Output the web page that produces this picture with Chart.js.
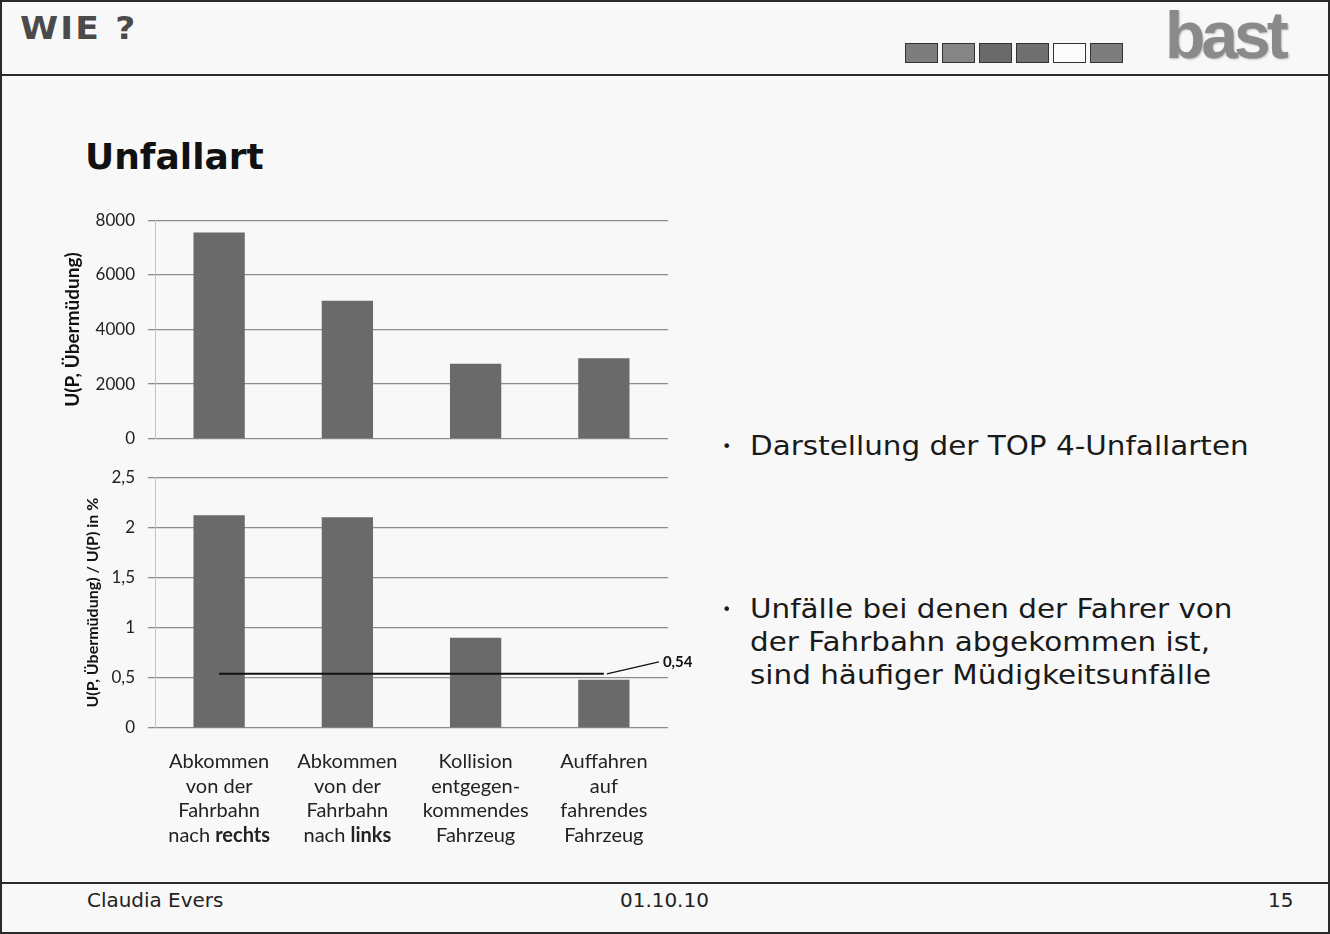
<!DOCTYPE html>
<html>
<head>
<meta charset="utf-8">
<script src="https://cdn.jsdelivr.net/npm/chart.js@4/dist/chart.umd.min.js"></script>
<style>
  html, body { margin:0; padding:0; }
  body { width:1330px; height:934px; position:relative; background:#f8f8f8; overflow:hidden; font-family:"DejaVu Sans", Verdana, sans-serif; }
  .abs { position:absolute; }
  #frame { left:0; top:0; width:1330px; height:934px; box-sizing:border-box; border:2px solid #2a2a2a; }
  #hdrline { left:0; top:74px; width:1330px; height:2px; background:#2a2a2a; }
  #ftrline { left:0; top:882px; width:1330px; height:2px; background:#2a2a2a; }
  #wie { left:20px; top:9px; font-weight:bold; font-size:32px; color:#4a4a4a; letter-spacing:2px; transform:scaleX(1.08); transform-origin:left top; white-space:nowrap; }
  .box { position:absolute; top:43px; width:31px; height:18px; border:1px solid #333; }
  #bast { left:1165px; top:-3px; font-family:"Liberation Sans Narrow","Liberation Sans",sans-serif; font-weight:bold; font-size:66px; color:#8a8a8a; letter-spacing:-4px; text-shadow:1px 1px 2px #bbb; }
  #title { left:85px; top:136px; font-weight:bold; font-size:36px; color:#111; }
  .bul { position:absolute; left:722px; font-size:27px; color:#1a1a1a; line-height:33px; }
  .bul .dot { position:absolute; left:0; top:0; font-size:16px; }
  .bul .txt { margin-left:28px; transform:scaleX(1.09); transform-origin:left top; white-space:nowrap; }
  .ft { position:absolute; top:889px; font-size:19px; color:#222; transform:scaleX(1.05); transform-origin:left top; }
  canvas { position:absolute; }
</style>
</head>
<body>
<div id="frame" class="abs"></div>
<div id="wie" class="abs">WIE ?</div>
<div class="box" style="left:905px;background:#7d7d7d"></div>
<div class="box" style="left:942px;background:#858585"></div>
<div class="box" style="left:979px;background:#6a6a6a"></div>
<div class="box" style="left:1016px;background:#707070"></div>
<div class="box" style="left:1053px;background:#fbfbfb"></div>
<div class="box" style="left:1090px;background:#7d7d7d"></div>
<div id="bast" class="abs">bast</div>
<div id="hdrline" class="abs"></div>
<div id="title" class="abs">Unfallart</div>

<canvas id="c1" width="660" height="265" style="left:60px;top:197px;width:660px;height:265px"></canvas>
<canvas id="c2" width="660" height="406" style="left:60px;top:454px;width:660px;height:406px"></canvas>

<div class="bul" style="top:429px"><span class="dot" style="top:1px">&#8226;</span><div class="txt">Darstellung der TOP 4-Unfallarten</div></div>
<div class="bul" style="top:592px"><span class="dot" style="top:1px">&#8226;</span><div class="txt">Unfälle bei denen der Fahrer von<br>der Fahrbahn abgekommen ist,<br>sind häufiger Müdigkeitsunfälle</div></div>

<div id="ftrline" class="abs"></div>
<div class="ft" style="left:87px">Claudia Evers</div>
<div class="ft" style="left:620px">01.10.10</div>
<div class="ft" style="left:1268px">15</div>

<script>
// ---- data ----
const categories = [
  ["Abkommen", "von der", "Fahrbahn", "nach rechts"],
  ["Abkommen", "von der", "Fahrbahn", "nach links"],
  ["Kollision", "entgegen-", "kommendes", "Fahrzeug"],
  ["Auffahren", "auf", "fahrendes", "Fahrzeug"]
];
const boldWords = ["rechts", "links"];
const countValues = [7550, 5050, 2750, 2950];          // U(P, Übermüdung)
const shareValues = [2.12, 2.10, 0.90, 0.48];           // U(P, Übermüdung) / U(P) in %
const averageShare = 0.54;
const averageLine = categories.map(() => averageShare);
const countTicks = [0, 2000, 4000, 6000, 8000];
const shareTicks = [0, 0.5, 1, 1.5, 2, 2.5];

// ---- styling ----
const FONT = "Lato, 'Open Sans', sans-serif";
const BAR = "#6a6a6a";
const GRID = "#8c8c8c";
Chart.defaults.font.family = FONT;
Chart.defaults.color = "#222";
Chart.defaults.animation = false;

const deComma = v => String(v).replace('.', ',');

function yScale(ticks, titleText, titleSize, titlePad, fmt) {
  return {
    min: ticks[0], max: ticks[ticks.length - 1],
    afterBuildTicks: s => { s.ticks = ticks.map(v => ({ value: v })); },
    afterFit: s => { s.width = 95; },
    grid: { color: GRID, lineWidth: 1.3, tickLength: 7, drawTicks: true },
    border: { display: true, color: "#c4c4c4", width: 1 },
    ticks: { padding: 13, font: { size: 17 }, color: "#222", callback: fmt },
    title: { display: true, text: titleText, font: { size: titleSize, weight: "bold" }, color: "#111", padding: { top: titlePad, bottom: 0 } }
  };
}

// top chart
new Chart(document.getElementById('c1'), {
  type: 'bar',
  data: {
    labels: categories,
    datasets: [{ data: countValues, backgroundColor: BAR, categoryPercentage: 0.8, barPercentage: 0.5 }]
  },
  options: {
    responsive: false,
    layout: { padding: { top: 0, right: 52, bottom: 0, left: 0 } },
    plugins: { legend: { display: false }, tooltip: { enabled: false } },
    scales: {
      x: { display: false },
      y: yScale(countTicks, "U(P, Übermüdung)", 19, 1, v => String(v))
    }
  }
});

// label plugin for multi-line category labels with bold words, and average label
const catLabels = {
  id: 'catLabels',
  afterDraw(chart) {
    const ctx = chart.ctx;
    const xs = chart.scales.x;
    const size = 20, lh = 24.5, y0 = chart.chartArea.bottom + 34;
    ctx.save();
    ctx.textBaseline = 'middle';
    ctx.fillStyle = '#222';
    categories.forEach((lines, i) => {
      const cx = xs.getPixelForTick(i);
      lines.forEach((line, j) => {
        const words = line.split(' ');
        const parts = words.map((w, k) => ({ t: (k < words.length - 1 ? w + ' ' : w), b: boldWords.includes(w) }));
        let total = 0;
        parts.forEach(p => { ctx.font = (p.b ? 'bold ' : '') + size + 'px ' + FONT; p.w = ctx.measureText(p.t).width; total += p.w; });
        let x = cx - total / 2;
        ctx.textAlign = 'left';
        parts.forEach(p => { ctx.font = (p.b ? 'bold ' : '') + size + 'px ' + FONT; ctx.fillText(p.t, x, y0 + j * lh); x += p.w; });
      });
    });
    // average label
    const meta = chart.getDatasetMeta(0);
    const last = meta.data[meta.data.length - 1];
    ctx.strokeStyle = '#111';
    ctx.lineWidth = 1.3;
    ctx.beginPath();
    ctx.moveTo(last.x + 3, last.y);
    ctx.lineTo(last.x + 55, last.y - 12);
    ctx.stroke();
    ctx.font = 'bold 15px ' + FONT;
    ctx.textAlign = 'left';
    ctx.fillStyle = '#111';
    ctx.fillText(deComma(averageShare), last.x + 59, last.y - 12);
    ctx.restore();
  }
};

// bottom chart
new Chart(document.getElementById('c2'), {
  type: 'bar',
  data: {
    labels: categories,
    datasets: [
      { type: 'line', data: averageLine, borderColor: '#111', borderWidth: 2, pointRadius: 0, order: 0 },
      { type: 'bar', data: shareValues, backgroundColor: BAR, categoryPercentage: 0.8, barPercentage: 0.5, order: 1 }
    ]
  },
  options: {
    responsive: false,
    layout: { padding: { top: 0, right: 52, bottom: 0, left: 0 } },
    plugins: { legend: { display: false }, tooltip: { enabled: false } },
    scales: {
      x: {
        grid: { display: false }, border: { display: false },
        ticks: { display: false },
        afterFit: s => { s.height = 132; }
      },
      y: yScale(shareTicks, "U(P, Übermüdung) / U(P) in %", 16, 23, v => deComma(v))
    }
  },
  plugins: [catLabels]
});
</script>
</body>
</html>
